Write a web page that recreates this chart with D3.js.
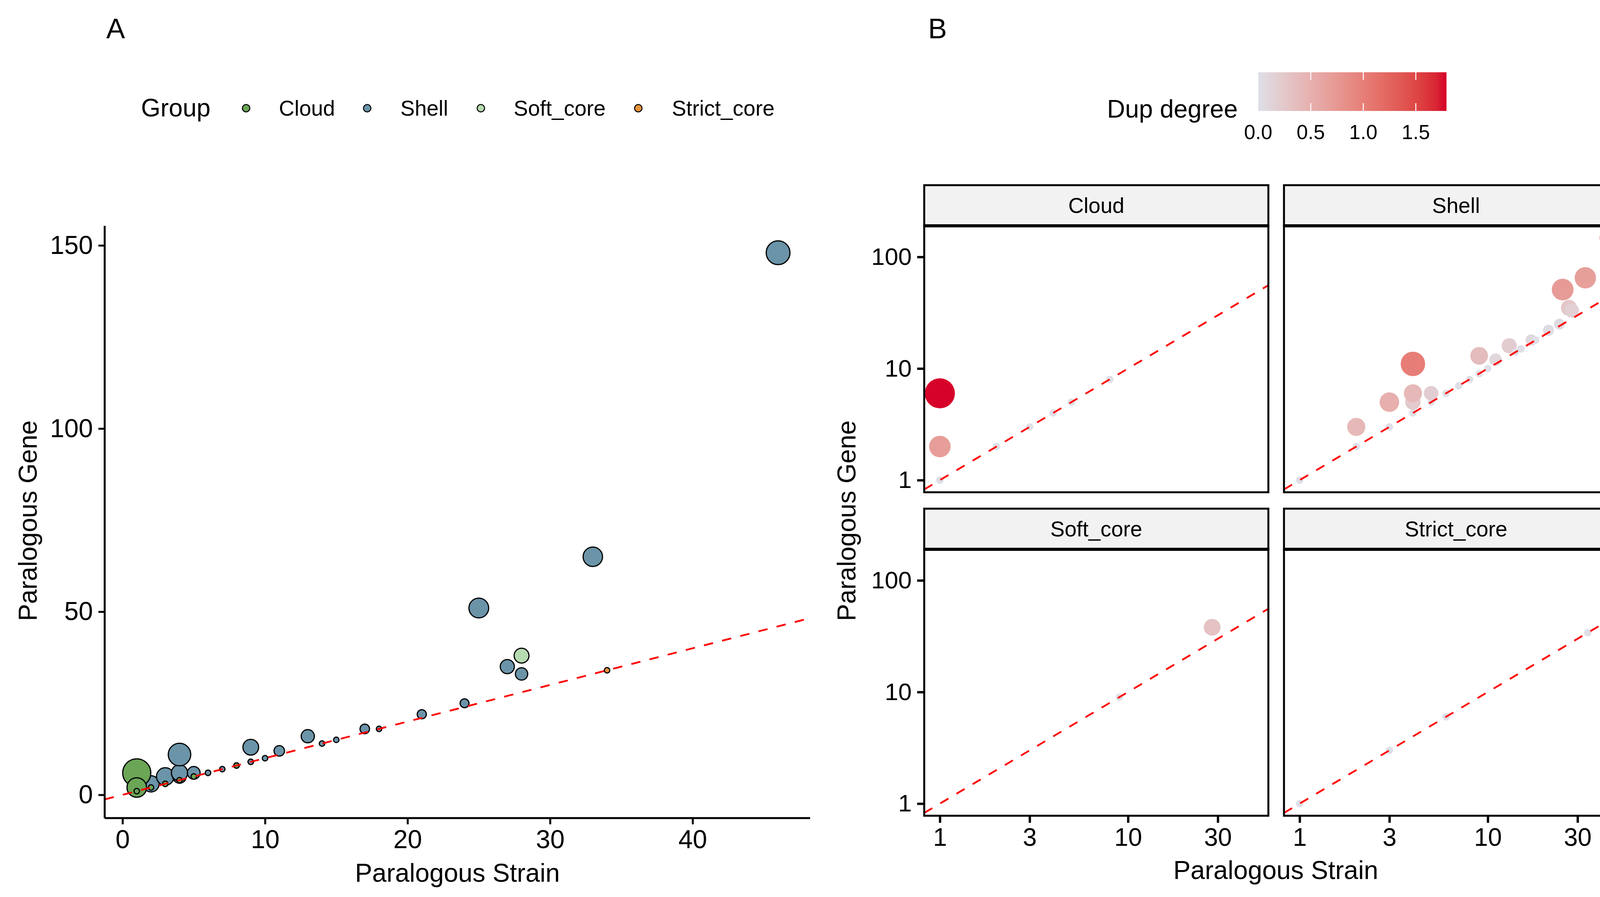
<!DOCTYPE html>
<html><head><meta charset="utf-8">
<script src="https://cdn.jsdelivr.net/npm/d3@7"></script>
<style>html,body{margin:0;padding:0;background:#fff;} svg{display:block;font-family:"Liberation Sans",Arial,Helvetica,sans-serif;}</style>
</head><body><svg id="c" width="4216" height="2296"></svg>
<script>
// ---------------- data ----------------
const groups = ["Cloud", "Shell", "Soft_core", "Strict_core"];
const groupColors = ["#6aa656", "#6b94a9", "#b7dbb0", "#e9943c"];

const cloudStrain = [1, 1, 1, 2, 3, 4, 5, 8];
const cloudGene   = [6, 2, 1, 2, 3, 4, 5, 8];

const shellStrain = [1, 2, 2, 3, 3, 4, 4, 4, 4, 5, 5, 6, 7, 8, 9, 9, 10, 11, 13, 14, 15, 17, 18, 21, 24, 25, 27, 28, 33, 46];
const shellGene   = [1, 2, 3, 3, 5, 4, 5, 6, 11, 5, 6, 6, 7, 8, 9, 13, 10, 12, 16, 14, 15, 18, 18, 22, 25, 51, 35, 33, 65, 148];

const softStrain = [9, 28];
const softGene   = [9, 38];

const strictStrain = [1, 3, 6, 34];
const strictGene   = [1, 3, 6, 34];

const xTicksA = [0, 10, 20, 30, 40];
const yTicksA = [0, 50, 100, 150];
const xTicksB = [1, 3, 10, 30];
const yTicksB = [1, 10, 100];
const dupTicks = [0, 0.5, 1.0, 1.5];

const strains = [cloudStrain, shellStrain, softStrain, strictStrain];
const genes = [cloudGene, shellGene, softGene, strictGene];

const byGroup = groups.map((g, i) => strains[i].map((s, j) => ({
  group: g, gi: i, strain: s, gene: genes[i][j], dup: Math.log(genes[i][j] / s)
})));
const all = byGroup.flat();

// ---------------- setup ----------------
const svg = d3.select("#c");
svg.append("rect").attr("width", 4216).attr("height", 2296).attr("fill", "#fff");
const FONT = 66;
const defs = svg.append("defs");

const vmax = d3.max(all, d => d.dup);
const colorScale = d3.scaleLinear().domain([0, vmax]).range(["#dedfe7", "#d6022a"]).interpolate(d3.interpolateLab);
const sizeScale = d3.scaleSqrt().domain([0, vmax]).range([0, 29]);
const groupFill = d3.scaleOrdinal().domain(groups).range(groupColors);

// ================= Panel A =================
const xExt = d3.extent(all, d => d.strain), xs = xExt[1] - xExt[0];
const yExt = d3.extent(all, d => d.gene), ys = yExt[1] - yExt[0];
const xA = d3.scaleLinear().domain([xExt[0] - 0.05 * xs, xExt[1] + 0.05 * xs]).range([268, 2074]);
const yA = d3.scaleLinear().domain([yExt[0] - 0.05 * ys, yExt[1] + 0.05 * ys]).range([2094, 578]);

defs.append("clipPath").attr("id", "clipA").append("rect")
  .attr("x", 268).attr("y", 578).attr("width", 2074 - 268).attr("height", 2094 - 578);

const gA = svg.append("g");
const ptsA = gA.append("g").attr("clip-path", "url(#clipA)");
[3, 2, 1, 0].forEach(i => {
  ptsA.selectAll(null).data(byGroup[i]).enter().append("circle")
    .attr("cx", d => xA(d.strain)).attr("cy", d => yA(d.gene))
    .attr("r", d => 7 + sizeScale(d.dup))
    .attr("fill", d => groupFill(d.group))
    .attr("stroke", "#000").attr("stroke-width", 3);
});
const xdA = xA.domain();
ptsA.append("path")
  .attr("d", d3.line().x(d => xA(d)).y(d => yA(d))(xdA))
  .attr("fill", "none").attr("stroke", "#ff0000").attr("stroke-width", 4.5)
  .attr("stroke-dasharray", "24,24");

// axes A
const axXA = gA.append("g").attr("transform", "translate(0,2094)")
  .call(d3.axisBottom(xA).tickValues(xTicksA).tickSize(16).tickPadding(14).tickFormat(d3.format("d")));
const axYA = gA.append("g").attr("transform", "translate(268,0)")
  .call(d3.axisLeft(yA).tickValues(yTicksA).tickSize(16).tickPadding(14).tickFormat(d3.format("d")));
[axXA, axYA].forEach(ax => {
  ax.select(".domain").attr("stroke", "#000").attr("stroke-width", 5);
  ax.selectAll(".tick line").attr("stroke", "#000").attr("stroke-width", 5);
  ax.selectAll(".tick text").attr("fill", "#000").attr("font-size", FONT)
    .attr("font-family", "Liberation Sans, Arial, sans-serif");
});
axXA.select(".domain").attr("d", "M268,0H2074");
axYA.select(".domain").attr("d", "M0,578V2094");

gA.append("text").attr("x", 1171).attr("y", 2257).attr("text-anchor", "middle")
  .attr("font-size", FONT).text("Paralogous Strain");
gA.append("text").attr("transform", "translate(94,1333) rotate(-90)").attr("text-anchor", "middle")
  .attr("font-size", FONT).text("Paralogous Gene");
svg.append("text").attr("x", 272).attr("y", 98).attr("font-size", 72).text("A");
svg.append("text").attr("x", 2376).attr("y", 98).attr("font-size", 72).text("B");

// legend A
const legA = svg.append("g");
legA.append("text").attr("x", 361).attr("y", 298).attr("font-size", 64).text("Group");
const legDotX = [630, 940, 1231, 1634];
const legTextX = [714, 1025, 1315, 1720];
groups.forEach((g, i) => {
  legA.append("circle").attr("cx", legDotX[i]).attr("cy", 277).attr("r", 9.5)
    .attr("fill", groupFill(g)).attr("stroke", "#000").attr("stroke-width", 2.5);
  legA.append("text").attr("x", legTextX[i]).attr("y", 296).attr("font-size", 55).text(g);
});

// ================= Panel B =================
const colX = [2366, 3287], panelW = 881;
const rowY = [578, 1406], panelH = 682, stripH = 104;
const lx = [Math.log10(xExt[0]), Math.log10(xExt[1])], lxp = 0.05 * (lx[1] - lx[0]);
const ly = [Math.log10(yExt[0]), Math.log10(yExt[1])], lyp = 0.05 * (ly[1] - ly[0]);

const gB = svg.append("g");
groups.forEach((g, i) => {
  const r = Math.floor(i / 2), c = i % 2;
  const x0 = colX[c], y0 = rowY[r];
  const xB = d3.scaleLog().domain([10 ** (lx[0] - lxp), 10 ** (lx[1] + lxp)]).range([x0, x0 + panelW]);
  const yB = d3.scaleLog().domain([10 ** (ly[0] - lyp), 10 ** (ly[1] + lyp)]).range([y0 + panelH, y0]);
  const cid = "clipB" + i;
  defs.append("clipPath").attr("id", cid).append("rect")
    .attr("x", x0).attr("y", y0).attr("width", panelW).attr("height", panelH);
  const pg = gB.append("g");
  const inner = pg.append("g").attr("clip-path", "url(#" + cid + ")");
  inner.selectAll(null).data(byGroup[i]).enter().append("circle")
    .attr("cx", d => xB(d.strain)).attr("cy", d => yB(d.gene))
    .attr("r", d => 9.5 + sizeScale(d.dup))
    .attr("fill", d => colorScale(d.dup));
  const xd = xB.domain();
  inner.append("path")
    .attr("d", d3.line().x(d => xB(d)).y(d => yB(d))(xd))
    .attr("fill", "none").attr("stroke", "#ff0000").attr("stroke-width", 4.5)
    .attr("stroke-dasharray", "24,24");
  // panel border
  pg.append("rect").attr("x", x0).attr("y", y0).attr("width", panelW).attr("height", panelH)
    .attr("fill", "none").attr("stroke", "#000").attr("stroke-width", 5);
  // strip
  pg.append("rect").attr("x", x0).attr("y", y0 - stripH).attr("width", panelW).attr("height", stripH)
    .attr("fill", "#f2f2f2").attr("stroke", "#000").attr("stroke-width", 5);
  pg.append("line").attr("x1", x0).attr("x2", x0 + panelW).attr("y1", y0).attr("y2", y0)
    .attr("stroke", "#000").attr("stroke-width", 8);
  pg.append("text").attr("x", x0 + panelW / 2).attr("y", y0 - stripH / 2 + 19)
    .attr("text-anchor", "middle").attr("font-size", 55).text(g);
  if (r === 1) {
    const ax = pg.append("g").attr("transform", "translate(0," + (y0 + panelH) + ")")
      .call(d3.axisBottom(xB).tickValues(xTicksB).tickSize(18).tickPadding(14).tickFormat(d3.format("d")));
    ax.select(".domain").remove();
    ax.selectAll(".tick line").attr("stroke", "#000").attr("stroke-width", 6);
    ax.selectAll(".tick text").attr("fill", "#000").attr("font-size", 64)
      .attr("font-family", "Liberation Sans, Arial, sans-serif");
  }
  if (c === 0) {
    const ax = pg.append("g").attr("transform", "translate(" + x0 + ",0)")
      .call(d3.axisLeft(yB).tickValues(yTicksB).tickSize(18).tickPadding(14).tickFormat(d3.format("d")));
    ax.select(".domain").remove();
    ax.selectAll(".tick line").attr("stroke", "#000").attr("stroke-width", 6);
    ax.selectAll(".tick text").attr("fill", "#000").attr("font-size", 62)
      .attr("font-family", "Liberation Sans, Arial, sans-serif");
  }
});
gB.append("text").attr("x", 3266).attr("y", 2250).attr("text-anchor", "middle")
  .attr("font-size", FONT).text("Paralogous Strain");
gB.append("text").attr("transform", "translate(2190,1333) rotate(-90)").attr("text-anchor", "middle")
  .attr("font-size", FONT).text("Paralogous Gene");

// colourbar legend
const cbX = d3.scaleLinear().domain([0, vmax]).range([3221, 3703]);
const grad = defs.append("linearGradient").attr("id", "cbGrad").attr("x1", "0%").attr("x2", "100%");
d3.range(0, 1.0001, 0.05).forEach(t => {
  grad.append("stop").attr("offset", (t * 100) + "%").attr("stop-color", colorScale(t * vmax));
});
const cb = svg.append("g");
cb.append("text").attr("x", 2834).attr("y", 301).attr("font-size", 64).text("Dup degree");
cb.append("rect").attr("x", cbX(0)).attr("y", 185).attr("width", cbX(vmax) - cbX(0)).attr("height", 99)
  .attr("fill", "url(#cbGrad)");
dupTicks.forEach(v => {
  if (v > 0) {
    cb.append("line").attr("x1", cbX(v)).attr("x2", cbX(v)).attr("y1", 185).attr("y2", 205)
      .attr("stroke", "#fff").attr("stroke-width", 2.5);
    cb.append("line").attr("x1", cbX(v)).attr("x2", cbX(v)).attr("y1", 264).attr("y2", 284)
      .attr("stroke", "#fff").attr("stroke-width", 2.5);
  }
  cb.append("text").attr("x", cbX(v)).attr("y", 356).attr("text-anchor", "middle")
    .attr("font-size", 52).text(d3.format(".1f")(v));
});
</script></body></html>
